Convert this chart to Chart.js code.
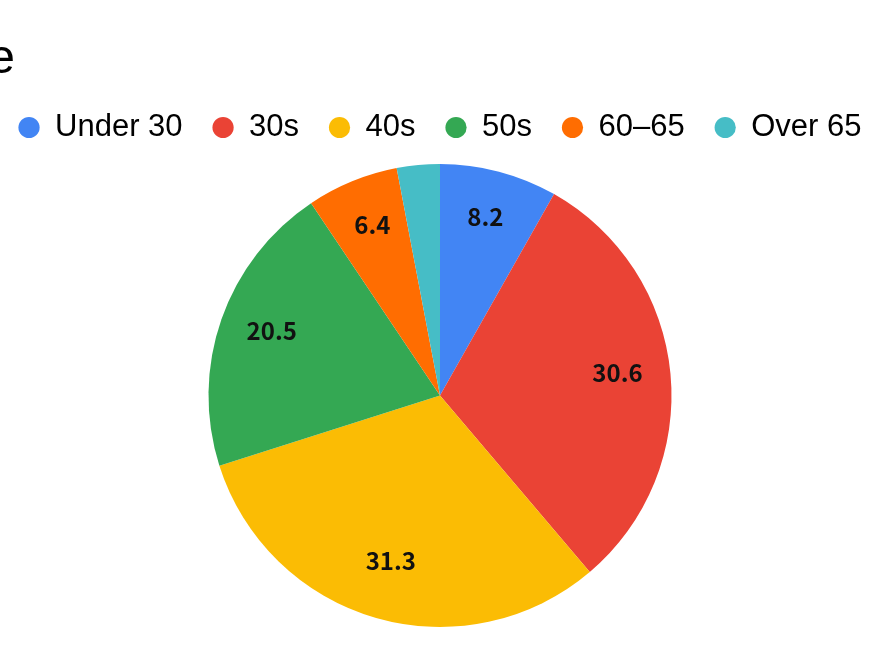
<!DOCTYPE html>
<html>
<head>
<meta charset="utf-8">
<script src="https://cdn.jsdelivr.net/npm/chart.js@4/dist/chart.umd.min.js"></script>
<style>
  html, body { margin: 0; padding: 0; background: #fff; overflow: hidden; }
  #wrap { width: 880px; height: 660px; }
</style>
</head>
<body>
<div id="wrap"><canvas id="ageChart"></canvas></div>
<script>
const ageGroups = ["Under 30", "30s", "40s", "50s", "60\u201365", "Over 65"];
const shares = [8.2, 30.6, 31.3, 20.5, 6.4, 3.0];
const sliceColors = ["#4285F4", "#EA4335", "#FBBC04", "#34A853", "#FF6D01", "#46BDC6"];
const chartTitle = "Employees by Age";

// title sits off the left edge in the reference, only its last letter shows
const clippedTitle = {
  id: "clippedTitle",
  afterDraw(chart) {
    const ctx = chart.ctx;
    ctx.save();
    ctx.font = "48px 'Liberation Sans', Arial, sans-serif";
    ctx.fillStyle = "#000";
    ctx.textAlign = "right";
    ctx.textBaseline = "alphabetic";
    ctx.fillText(chartTitle, 15, 73);
    ctx.restore();
  }
};

// legend is one wide row that almost touches both edges, and sits a bit
// further from the pie than chart.js puts it
const wideLegend = {
  id: "wideLegend",
  beforeInit(chart) {
    const fit = chart.legend.fit;
    chart.legend.fit = function () {
      const w = this.maxWidth;
      this.maxWidth = w + 200;
      fit.call(this);
      this.maxWidth = w;
      this.width = w;
      this.height += 11;
    };
  },
  afterLayout(chart) {
    chart.legend.left -= 100;
    chart.legend.right += 100;
  }
};

const sliceLabels = {
  id: "sliceLabels",
  afterDatasetsDraw(chart) {
    const ctx = chart.ctx;
    const meta = chart.getDatasetMeta(0);
    ctx.save();
    ctx.font = "bold 24px 'Noto Sans CJK JP', 'Noto Sans', sans-serif";
    ctx.fillStyle = "#111";
    ctx.textAlign = "center";
    ctx.textBaseline = "middle";
    meta.data.forEach((arc, i) => {
      const value = shares[i];
      if (value < 5) {
        return;
      }
      const p = arc.getProps(["x", "y", "startAngle", "endAngle", "outerRadius"], true);
      const mid = (p.startAngle + p.endAngle) / 2;
      const r = p.outerRadius * 0.77;
      ctx.fillText(value.toFixed(1), p.x + Math.cos(mid) * r, p.y + Math.sin(mid) * r - 6);
    });
    ctx.restore();
  }
};

new Chart(document.getElementById("ageChart"), {
  type: "pie",
  data: {
    labels: ageGroups,
    datasets: [{
      data: shares,
      backgroundColor: sliceColors,
      borderWidth: 0
    }]
  },
  options: {
    responsive: true,
    maintainAspectRatio: false,
    animation: false,
    layout: {
      padding: { top: 82, bottom: 33 }
    },
    plugins: {
      title: { display: false },
      tooltip: { enabled: false },
      legend: {
        position: "top",
        labels: {
          usePointStyle: true,
          pointStyle: "circle",
          boxWidth: 21,
          boxHeight: 15,
          padding: 30,
          color: "#000",
          font: { family: "'Liberation Sans', Arial, sans-serif", size: 31 }
        }
      }
    }
  },
  plugins: [wideLegend, sliceLabels, clippedTitle]
});
</script>
</body>
</html>
